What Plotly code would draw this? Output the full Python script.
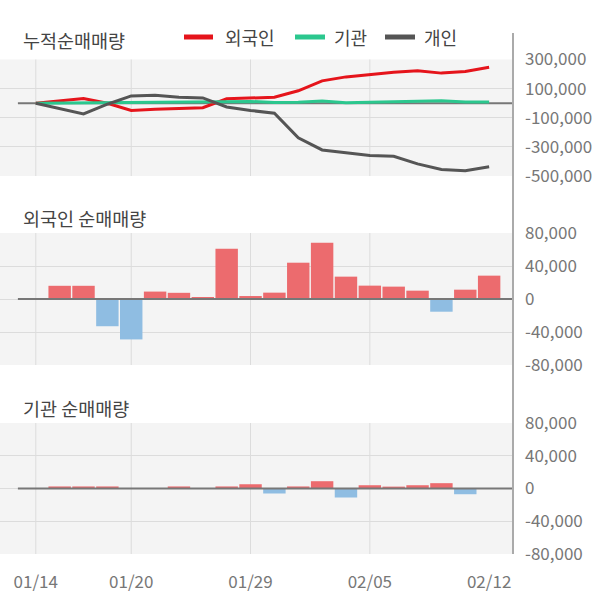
import plotly.graph_objects as go

# ---------------- data ----------------
dates = ["01/14", "01/15", "01/16", "01/17", "01/20", "01/21", "01/22", "01/23", "01/28", "01/29",
         "01/30", "01/31", "02/03", "02/04", "02/05", "02/06", "02/07", "02/10", "02/11", "02/12"]
tick_dates = ["01/14", "01/20", "01/29", "02/05", "02/12"]

foreign_daily = [0, 16000, 16000, -33000, -49000, 9000, 7500, 2400, 61000, 3600,
                 7700, 44000, 68300, 27100, 16200, 15000, 10100, -15400, 11300, 28300]
inst_daily = [0, 2500, 2500, 2500, 0, 0, 2500, 0, 2500, 5200,
              -6100, 2500, 8900, -11000, 4000, 2300, 4000, 6500, -7000, 0]

foreign_cum = [0, 16000, 32000, -1000, -50000, -41000, -33500, -31100, 29900, 33500,
               41200, 85200, 153500, 180600, 196800, 211800, 221900, 206500, 217800, 246100]
inst_cum = [0, 1600, 3200, 4800, 4800, 4800, 6400, 6400, 8000, 12000,
            5500, 7100, 14800, 3500, 6300, 7900, 10700, 16000, 8300, 8300]
indiv_cum = [0, -36000, -74000, -7000, 50000, 55000, 40000, 36000, -26000, -50000,
             -69000, -238000, -321000, -340000, -360000, -364000, -417000, -455000, -464000, -436000]

top_ticks = [-500000, -300000, -100000, 100000, 300000]
top_ticktext = ["-500,000", "-300,000", "-100,000", "100,000", "300,000"]
bar_ticks = [-80000, -40000, 0, 40000, 80000]
bar_ticktext = ["-80,000", "-40,000", "0", "40,000", "80,000"]

series_names = ["외국인", "기관", "개인"]
panel_titles = ["누적순매매량", "외국인 순매매량", "기관 순매매량"]

# ---------------- style ----------------
W, H = 600, 604
FONT = "Noto Sans CJK KR"
RED_LINE = "#e5141b"
GREEN_LINE = "#2bc78e"
GRAY_LINE = "#555555"
BAR_POS = "#ec6b6e"
BAR_NEG = "#8fbde2"
BG = "#f4f4f4"
GRID = "#dcdcdc"
ZERO = "#777777"
TICK_COLOR = "#777777"
TEXT = "#444444"


def px(x):
    return x / W


def py(y):
    return 1 - y / H


X_RIGHT = 513
idx = list(range(len(dates)))

fig = go.Figure()

# top panel lines
line_colors = [RED_LINE, GREEN_LINE, GRAY_LINE]
for name, vals, col in zip(series_names, [foreign_cum, inst_cum, indiv_cum], line_colors):
    fig.add_trace(go.Scatter(x=idx, y=vals, mode="lines", name=name,
                             line=dict(color=col, width=3), xaxis="x", yaxis="y",
                             showlegend=False, hoverinfo="skip"))

# bars
for vals, xa, ya in [(foreign_daily, "x2", "y2"), (inst_daily, "x3", "y3")]:
    bx = [i for i, v in zip(idx, vals) if v != 0]
    bv = [v for v in vals if v != 0]
    fig.add_trace(go.Bar(x=bx, y=bv, width=0.94,
                         marker=dict(color=[BAR_POS if v > 0 else BAR_NEG for v in bv], line=dict(width=0)),
                         xaxis=xa, yaxis=ya, showlegend=False, hoverinfo="skip"))

xdom = [0, px(X_RIGHT)]
xrange = [-1.5, 20]
domains = {
    "y": [py(176), py(59.5)],
    "y2": [py(365), py(233)],
    "y3": [py(554), py(423)],
}

common_x = dict(domain=xdom, range=xrange, showgrid=False, zeroline=False, showline=False,
                fixedrange=True, automargin=False)
fig.update_layout(
    xaxis=dict(**common_x, anchor="y", showticklabels=False),
    xaxis2=dict(**common_x, anchor="y2", showticklabels=False),
    xaxis3=dict(**common_x, anchor="y3", tickmode="array",
                tickvals=[dates.index(d) for d in tick_dates], ticktext=tick_dates,
                ticks="", ticklabelstandoff=16,
                tickfont=dict(family=FONT, size=17, color=TICK_COLOR)),
)

common_y = dict(side="right", showgrid=True, gridcolor=GRID, gridwidth=1, zeroline=False,
                showline=False, ticks="", ticklabelstandoff=11, automargin=False,
                tickfont=dict(family=FONT, size=17, color=TICK_COLOR), fixedrange=True)
fig.update_layout(
    yaxis=dict(**common_y, domain=domains["y"], anchor="x", range=[-500000, 300000],
               tickmode="array", tickvals=top_ticks, ticktext=top_ticktext),
    yaxis2=dict(**common_y, domain=domains["y2"], anchor="x2", range=[-80000, 80000],
                tickmode="array", tickvals=bar_ticks, ticktext=bar_ticktext),
    yaxis3=dict(**common_y, domain=domains["y3"], anchor="x3", range=[-80000, 80000],
                tickmode="array", tickvals=bar_ticks, ticktext=bar_ticktext),
)

shapes = []
# vertical gridlines
grid_idx = [dates.index(d) for d in tick_dates[:-1]]
for xa, ya in [("x", "y"), ("x2", "y2"), ("x3", "y3")]:
    for gi in grid_idx:
        shapes.append(dict(type="line", xref=xa, yref=ya + " domain", x0=gi, x1=gi, y0=0, y1=1,
                           line=dict(color=GRID, width=1), layer="below"))
# zero lines
shapes.append(dict(type="line", xref="x", yref="y", x0=-0.75, x1=20, y0=0, y1=0,
                   line=dict(color=ZERO, width=2), layer="between"))
for xa, ya in [("x2", "y2"), ("x3", "y3")]:
    shapes.append(dict(type="line", xref=xa, yref=ya, x0=-0.75, x1=20, y0=0, y1=0,
                       line=dict(color=ZERO, width=2), layer="above"))
# right axis line
shapes.append(dict(type="line", xref="paper", yref="paper", x0=px(X_RIGHT), x1=px(X_RIGHT),
                   y0=py(554), y1=py(33), line=dict(color="#aaaaaa", width=2), layer="above"))

# legend (manual)
legend_items = [(184, 213, 223), (295, 325, 332), (385, 415, 422)]
annotations = []
for (s0, s1, tx), name, col in zip(legend_items, series_names, line_colors):
    shapes.append(dict(type="line", xref="paper", yref="paper", x0=px(s0), x1=px(s1),
                       y0=py(37), y1=py(37), line=dict(color=col, width=5)))
    annotations.append(dict(text=name, xref="paper", yref="paper", x=px(tx), y=py(37),
                            xanchor="left", yanchor="middle", showarrow=False,
                            font=dict(family=FONT, size=18, color=TEXT)))

# panel titles
for title, ty in zip(panel_titles, [40, 218, 408]):
    annotations.append(dict(text=title, xref="paper", yref="paper", x=px(21), y=py(ty),
                            xanchor="left", yanchor="middle", showarrow=False,
                            font=dict(family=FONT, size=18.5, color=TEXT)))

fig.update_layout(
    width=W, height=H, margin=dict(l=0, r=0, t=0, b=0, pad=0, autoexpand=False),
    paper_bgcolor="white", plot_bgcolor=BG,
    shapes=shapes, annotations=annotations, barmode="overlay",
    showlegend=False, font=dict(family=FONT),
)

fig.write_html("out.html", config={"displayModeBar": False})
